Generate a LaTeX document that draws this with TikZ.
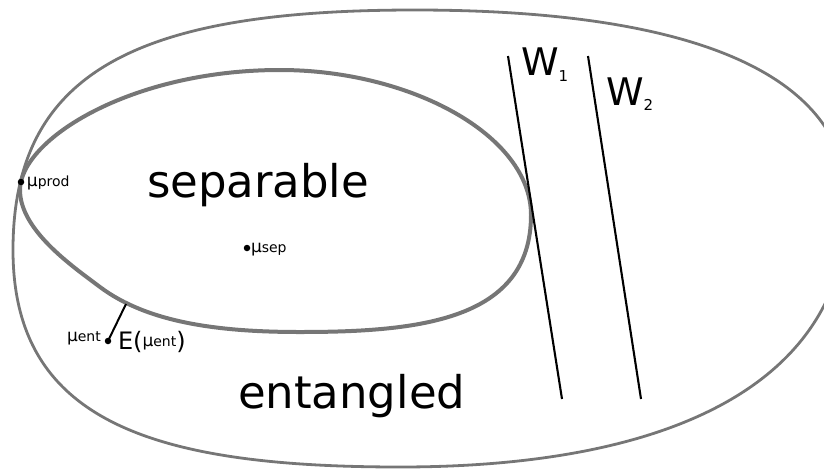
\documentclass[tikz,border=0pt]{standalone}
\usepackage{fontspec}
\setmainfont{DejaVu Sans}
\definecolor{setgray}{RGB}{118,118,118}
\tikzset{
  outerset/.style={draw=setgray, line width=2.8pt},
  innerset/.style={draw=setgray, line width=4pt},
  wline/.style={draw=black, line width=2.1pt},
  lbl/.style={anchor=base west, inner sep=0pt, outer sep=0pt},
  pointdot/.style={circle, fill=black, inner sep=0pt, minimum size=6.5pt},
  bigtxt/.style={lbl, font=\fontsize{45}{50}\selectfont},
}
\newcommand{\mulab}[1]{{\fontsize{17}{18}\selectfont μ}{\fontsize{14}{15}\selectfont #1}}
\begin{document}
\begin{tikzpicture}[x=1pt,y=-1pt]
\useasboundingbox (0,0) rectangle (824,469);
% outer set (all states)
\draw[outerset] (13,250) .. controls (13,70) and (140,10) .. (415,10)
  .. controls (660,10) and (848,60) .. (848,205)
  .. controls (845,390) and (660,467) .. (400,467)
  .. controls (150,467) and (13,420) .. cycle;
% inner set (separable)
\draw[innerset] (20,190) .. controls (20,140) and (130,70) .. (280,70)
  .. controls (410,70) and (531,135) .. (531,215)
  .. controls (531,320) and (420,332) .. (300,332)
  .. controls (220,332) and (148,323) .. (100,287)
  .. controls (72,266) and (20,230) .. cycle;
% witnesses
\coordinate (w1a) at (508,56); \coordinate (w1b) at (562,399);
\coordinate (w2a) at (588,56); \coordinate (w2b) at (641,399);
\draw[wline] (w1a) -- (w1b);
\draw[wline] (w2a) -- (w2b);
\node[lbl] (w1) at (521,75) {\fontsize{38}{40}\selectfont W\raisebox{-6pt}{\fontsize{15}{15}\selectfont 1}};
\node[lbl] (w2) at (606,105) {\fontsize{38}{40}\selectfont W\raisebox{-5pt}{\fontsize{15}{15}\selectfont 2}};
% labels
\node[bigtxt] (sep) at (147,197) {separable};
\node[bigtxt] (ent) at (238,408) {entangled};
% points
\node[pointdot] (mprod) at (21,182) {};
\node[lbl] (mprodl) at (27,186) {\mulab{prod}};
\node[pointdot] (msep) at (247,248) {};
\node[lbl] (msepl) at (251,252) {\mulab{sep}};
\node[pointdot] (ment) at (108,341) {};
\node[lbl] (mentl) at (67,341) {\mulab{ent}};
\coordinate (eproj) at (126,304);
\draw[black, line width=2pt] (ment.center) -- (eproj);
\node[lbl] (eml) at (118,349) {\fontsize{24}{26}\selectfont E(\raisebox{3pt}{\mulab{ent}})};
\end{tikzpicture}
\end{document}
